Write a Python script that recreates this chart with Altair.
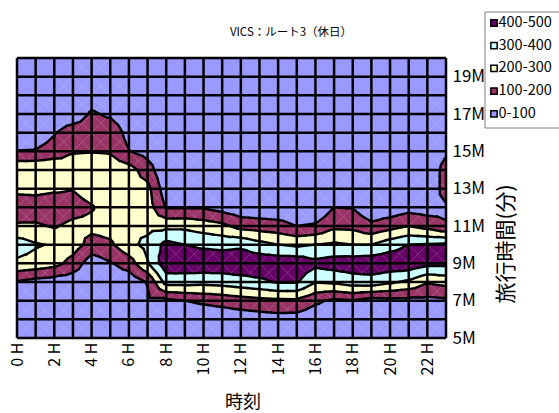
import altair as alt
import pandas as pd

# axes of the surface
hours = list(range(24))            # 0 H .. 23 H
minutes = list(range(5, 21))       # 5M .. 20M travel time
levels = [100, 200, 300, 400]
band_bounds = [0, 100, 200, 300, 400, 500]
band_labels = ["0-100", "100-200", "200-300", "300-400", "400-500"]
band_colors = ["#9999FF", "#993366", "#FFFFCC", "#CCFFFF", "#660066"]

hour_ticks = [0, 2, 4, 6, 8, 10, 12, 14, 16, 18, 20, 22]
minute_ticks = [5, 7, 9, 11, 13, 15, 17, 19]

chart_title = "VICS：ルート3（休日）"
x_title = "時刻"
y_title = "旅行時間(分)"

# counts for travel times 5M..20M, one list per hour
h00 = [0, 5, 20, 90, 280, 350, 215, 130, 230, 290, 103, 40, 10, 0, 0, 0]
h01 = [0, 5, 20, 64, 264, 310, 215, 140, 235, 290, 106, 40, 10, 0, 0, 0]
h02 = [0, 5, 15, 50, 235, 290, 190, 120, 220, 290, 140, 93, 20, 0, 0, 0]
h03 = [0, 5, 10, 40, 160, 250, 230, 150, 206, 261, 190, 160, 30, 5, 0, 0]
h04 = [0, 0, 5, 10, 45, 160, 230, 190, 260, 280, 195, 160, 115, 40, 10, 0]
h05 = [0, 0, 5, 20, 91, 183, 240, 260, 270, 260, 190, 180, 80, 30, 0, 0]
h06 = [0, 0, 5, 30, 150, 270, 280, 260, 250, 241, 104, 60, 20, 0, 0, 0]
h07 = [0, 20, 80, 108, 292, 330, 270, 250, 230, 150, 60, 20, 0, 0, 0, 0]
h08 = [0, 10, 80, 340, 470, 430, 275, 90, 40, 10, 0, 0, 0, 0, 0, 0]
h09 = [0, 15, 100, 340, 470, 400, 275, 90, 15, 5, 0, 0, 0, 0, 0, 0]
h10 = [0, 20, 120, 333, 470, 380, 250, 90, 15, 5, 0, 0, 0, 0, 0, 0]
h11 = [0, 30, 136, 340, 470, 370, 225, 60, 10, 0, 0, 0, 0, 0, 0, 0]
h12 = [0, 40, 157, 360, 470, 380, 164, 30, 5, 0, 0, 0, 0, 0, 0, 0]
h13 = [5, 50, 171, 380, 470, 333, 150, 25, 5, 0, 0, 0, 0, 0, 0, 0]
h14 = [10, 60, 180, 410, 470, 300, 138, 25, 5, 0, 0, 0, 0, 0, 0, 0]
h15 = [10, 55, 181, 410, 470, 283, 100, 10, 0, 0, 0, 0, 0, 0, 0, 0]
h16 = [5, 30, 120, 305, 430, 300, 113, 10, 0, 0, 0, 0, 0, 0, 0, 0]
h17 = [5, 20, 80, 318, 450, 316, 178, 100, 30, 5, 0, 0, 0, 0, 0, 0]
h18 = [5, 20, 95, 350, 460, 300, 172, 95, 25, 5, 0, 0, 0, 0, 0, 0]
h19 = [0, 10, 60, 356, 470, 300, 124, 20, 5, 0, 0, 0, 0, 0, 0, 0]
h20 = [0, 10, 70, 317, 470, 357, 161, 30, 5, 0, 0, 0, 0, 0, 0, 0]
h21 = [0, 10, 70, 281, 470, 400, 200, 60, 10, 0, 0, 0, 0, 0, 0, 0]
h22 = [0, 10, 70, 211, 430, 410, 160, 50, 5, 0, 0, 0, 0, 0, 0, 0]
h23 = [0, 10, 80, 233, 430, 417, 107, 85, 150, 150, 80, 20, 5, 0, 0, 0]

grid = [h00, h01, h02, h03, h04, h05, h06, h07, h08, h09, h10, h11,
        h12, h13, h14, h15, h16, h17, h18, h19, h20, h21, h22, h23]


def clip(poly, level, keep_above):
    """Clip a polygon with linearly varying z against z >= level (or <=)."""
    out = []
    n = len(poly)
    for i in range(n):
        a, b = poly[i], poly[(i + 1) % n]
        ina = a[2] >= level if keep_above else a[2] <= level
        inb = b[2] >= level if keep_above else b[2] <= level
        if ina:
            out.append(a)
        if ina != inb:
            t = (level - a[2]) / (b[2] - a[2])
            out.append((a[0] + t * (b[0] - a[0]), a[1] + t * (b[1] - a[1]), level))
    return out


def area(poly):
    s = 0.0
    for i in range(len(poly)):
        x0, y0 = poly[i][0], poly[i][1]
        x1, y1 = poly[(i + 1) % len(poly)][0], poly[(i + 1) % len(poly)][1]
        s += x0 * y1 - x1 * y0
    return abs(s) / 2


def iso_segment(tri, level):
    pts = []
    for i in range(3):
        a, b = tri[i], tri[(i + 1) % 3]
        if (a[2] >= level) != (b[2] >= level):
            t = (level - a[2]) / (b[2] - a[2])
            pts.append((a[0] + t * (b[0] - a[0]), a[1] + t * (b[1] - a[1])))
    return pts if len(pts) == 2 else None


# each grid cell is split into four triangles around its centre
poly_rows, line_rows, diag_rows = [], [], []
pid, sid, did = 0, 0, 0
for i in range(len(hours) - 1):
    for j in range(len(minutes) - 1):
        ha, hb = hours[i], hours[i + 1]
        ma, mb = minutes[j], minutes[j + 1]
        corners = [(ha, ma, grid[i][j]), (hb, ma, grid[i + 1][j]),
                   (hb, mb, grid[i + 1][j + 1]), (ha, mb, grid[i][j + 1])]
        centre = ((ha + hb) / 2, (ma + mb) / 2, sum(c[2] for c in corners) / 4)
        # faint seams where the cell is drawn as separate triangles
        if len({c[2] for c in corners}) > 1:
            for a, b in ((corners[0], corners[2]), (corners[1], corners[3])):
                diag_rows.append({"did": did, "o": 0, "x": a[0], "y": a[1]})
                diag_rows.append({"did": did, "o": 1, "x": b[0], "y": b[1]})
                did += 1
        for k in range(4):
            tri = [corners[k], corners[(k + 1) % 4], centre]
            for b in range(1, 5):
                poly = clip(tri, band_bounds[b], True)
                if len(poly) >= 3:
                    poly = clip(poly, band_bounds[b + 1], False)
                if len(poly) >= 3 and area(poly) > 1e-7:
                    for n, p in enumerate(poly + [poly[0]]):
                        poly_rows.append({"pid": pid, "o": n, "x": p[0], "y": p[1],
                                          "band": band_labels[b]})
                    pid += 1
            for lv in levels:
                seg = iso_segment(tri, lv)
                if seg:
                    for n, p in enumerate(seg):
                        line_rows.append({"sid": sid, "o": n, "x": p[0], "y": p[1]})
                    sid += 1

poly_df = pd.DataFrame(poly_rows)
line_df = pd.DataFrame(line_rows)
diag_df = pd.DataFrame(diag_rows)

xscale = alt.Scale(domain=[hours[0], hours[-1]], nice=False, zero=False)
yscale = alt.Scale(domain=[minutes[0], minutes[-1]], nice=False, zero=False)
legend_order = band_labels[::-1]
color_order = band_colors[::-1]
band_scale = alt.Scale(domain=legend_order, range=color_order)
font = "Noto Sans CJK JP"

xaxis = alt.Axis(values=hour_ticks, labelExpr="datum.value + ' H'", labelAngle=270,
                 labelAlign="right", labelBaseline="middle", labelPadding=4,
                 labelFontSize=16, labelFont=font, labelColor="black",
                 domain=False, ticks=False, grid=False, title=None)
yaxis = alt.Axis(orient="right", values=minute_ticks, labelExpr="datum.value + 'M'",
                 labelAlign="left", labelBaseline="middle", labelPadding=6,
                 labelFontSize=17, labelFont=font, labelColor="black",
                 domain=False, ticks=False, grid=False, title=None)

bands = alt.Chart(poly_df).mark_line(strokeWidth=0.8, strokeJoin="round").encode(
    x=alt.X("x:Q", scale=xscale, axis=xaxis),
    y=alt.Y("y:Q", scale=yscale, axis=yaxis),
    detail="pid:N",
    order="o:Q",
    fill=alt.Fill("band:N", scale=band_scale, legend=None),
    stroke=alt.Stroke("band:N", scale=band_scale, legend=None),
)

seams = alt.Chart(diag_df).mark_line(color="white", strokeWidth=0.8, opacity=0.22).encode(
    x=alt.X("x:Q", scale=xscale, axis=xaxis),
    y=alt.Y("y:Q", scale=yscale, axis=yaxis),
    detail="did:N",
    order="o:Q",
)

contours = alt.Chart(line_df).mark_line(color="black", strokeWidth=2.4,
                                         strokeCap="round", strokeJoin="round").encode(
    x=alt.X("x:Q", scale=xscale, axis=xaxis),
    y=alt.Y("y:Q", scale=yscale, axis=yaxis),
    detail="sid:N",
    order="o:Q",
)

vgrid = alt.Chart(pd.DataFrame({"h": hours})).mark_rule(color="black", strokeWidth=2.5).encode(
    x=alt.X("h:Q", scale=xscale, axis=xaxis)
)
hgrid = alt.Chart(pd.DataFrame({"m": minutes})).mark_rule(color="black", strokeWidth=2.5).encode(
    y=alt.Y("m:Q", scale=yscale, axis=yaxis)
)

title_text = alt.Chart(pd.DataFrame({"t": [chart_title]})).mark_text(
    font=font, fontSize=11.5, color="black", align="center", baseline="middle"
).encode(text="t:N", x=alt.value(274), y=alt.value(-25))

x_title_text = alt.Chart(pd.DataFrame({"t": [x_title]})).mark_text(
    font=font, fontSize=18, color="black", align="center", baseline="middle"
).encode(text="t:N", x=alt.value(226), y=alt.value(345))

y_title_text = alt.Chart(pd.DataFrame({"t": [y_title]})).mark_text(
    font=font, fontSize=21, color="black", align="center", baseline="middle", angle=270
).encode(text="t:N", x=alt.value(490), y=alt.value(186))

# legend box with one square swatch and label per band
legend_layers = [
    alt.Chart(pd.DataFrame({"t": [""]})).mark_rect(
        fill="white", stroke="#808080", strokeWidth=1
    ).encode(x=alt.value(468), x2=alt.value(548), y=alt.value(-46), y2=alt.value(70))
]
for idx, lab in enumerate(legend_order):
    ypos = -35 + idx * 22.7
    legend_layers.append(
        alt.Chart(pd.DataFrame({"band": [lab]})).mark_square(
            size=40, stroke="black", strokeWidth=1.5, opacity=1
        ).encode(fill=alt.Fill("band:N", scale=band_scale, legend=None),
                 x=alt.value(477), y=alt.value(ypos))
    )
    legend_layers.append(
        alt.Chart(pd.DataFrame({"band": [lab]})).mark_text(
            font=font, fontSize=14.5, color="black", align="left", baseline="middle"
        ).encode(text="band:N", x=alt.value(481.5), y=alt.value(ypos))
    )

chart = alt.layer(bands, seams, contours, vgrid, hgrid, title_text, x_title_text,
                  y_title_text, *legend_layers).properties(
    width=429, height=280,
    autosize=alt.AutoSizeParams(type="none"),
    padding={"left": 17, "top": 58, "right": 113, "bottom": 75},
    background="white",
).configure_view(fill="#9999FF", stroke=None)

chart.save("out.html", embed_options={"renderer": "svg", "actions": False})
